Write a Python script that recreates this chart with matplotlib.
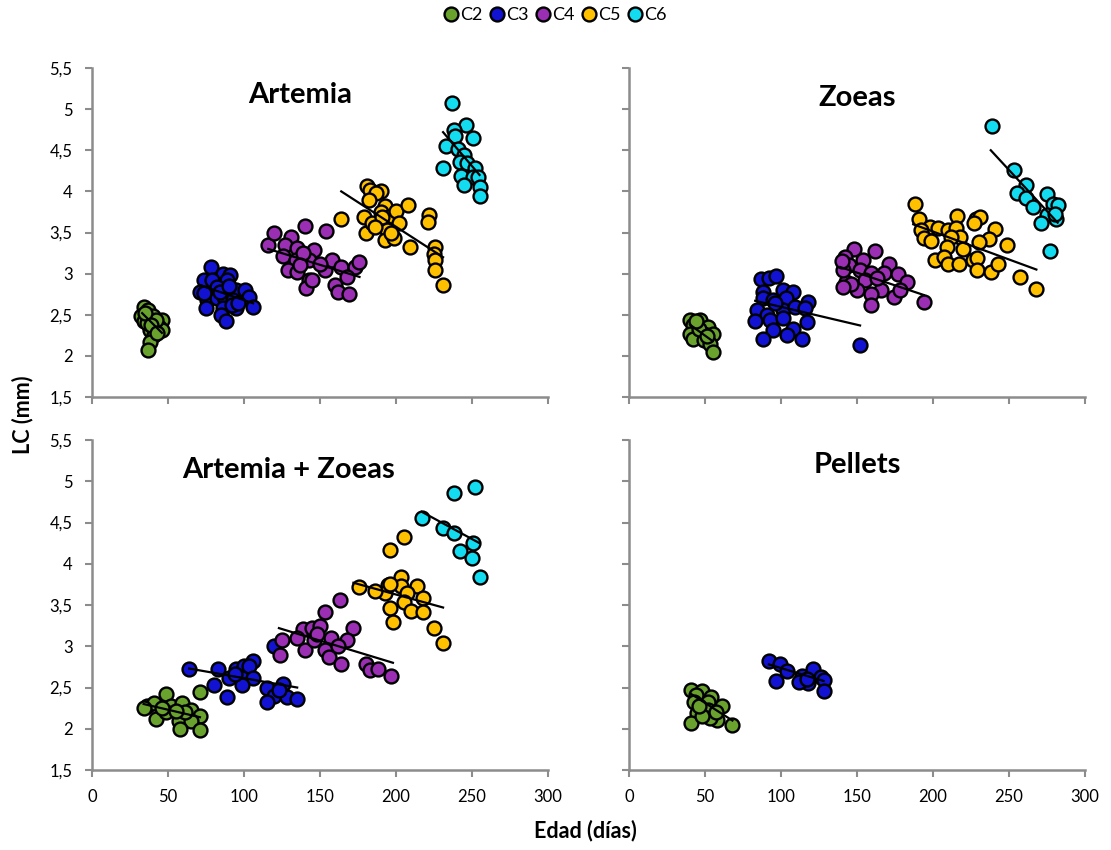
import matplotlib
matplotlib.use('Agg')
import matplotlib.pyplot as plt
from matplotlib.lines import Line2D
from matplotlib.ticker import FuncFormatter

plt.rcParams['font.family'] = ['Lato', 'DejaVu Sans']

stages = ['C2', 'C3', 'C4', 'C5', 'C6']
colors = ['#6AA22E', '#1212D2', '#9A2FB4', '#FFC000', '#14DCF0']

# (edad en días, LC en mm) por estadio y dieta
artemia_c2 = [(34, 2.60), (37, 2.56), (32, 2.48), (40, 2.48), (46, 2.44), (34, 2.42), (44, 2.35),
              (38, 2.32), (46, 2.32), (41, 2.25), (38, 2.17), (37, 2.07), (36, 2.40), (42, 2.44),
              (35, 2.52), (39, 2.38), (43, 2.28)]
artemia_c3 = [(78, 3.08), (86, 3.00), (91, 2.98), (74, 2.92), (79, 2.92), (89, 2.92), (71, 2.78),
              (82, 2.84), (95, 2.80), (101, 2.80), (76, 2.68), (82, 2.70), (87, 2.72), (93, 2.68),
              (103, 2.72), (106, 2.60), (75, 2.58), (86, 2.58), (95, 2.58), (85, 2.50), (88, 2.42),
              (92, 2.62), (74, 2.76), (96, 2.64), (84, 2.78), (90, 2.85)]
artemia_c4 = [(116, 3.35), (120, 3.50), (131, 3.45), (140, 3.58), (127, 3.35), (135, 3.31), (146, 3.29),
              (126, 3.21), (134, 3.17), (143, 3.17), (129, 3.04), (135, 3.02), (143, 2.92), (141, 2.82),
              (154, 3.52), (139, 3.25), (153, 3.04), (158, 3.17), (164, 3.08), (173, 3.08), (176, 3.14),
              (168, 2.96), (160, 2.86), (162, 2.78), (169, 2.75), (145, 2.92), (150, 3.12), (137, 3.10)]
artemia_c5 = [(181, 4.07), (183, 4.02), (190, 4.01), (164, 3.67), (180, 3.49), (179, 3.69), (184, 3.62),
              (193, 3.82), (190, 3.75), (195, 3.69), (200, 3.76), (208, 3.84), (202, 3.61), (194, 3.53),
              (193, 3.41), (199, 3.43), (197, 3.49), (209, 3.32), (222, 3.71), (221, 3.63), (226, 3.33),
              (225, 3.24), (226, 3.16), (226, 3.04), (231, 2.86), (187, 3.98), (182, 3.90), (191, 3.69),
              (186, 3.57)]
artemia_c6 = [(237, 5.07), (246, 4.81), (238, 4.75), (251, 4.65), (239, 4.67), (233, 4.55), (241, 4.52),
              (245, 4.44), (242, 4.36), (247, 4.34), (231, 4.29), (252, 4.29), (243, 4.19), (251, 4.17),
              (254, 4.18), (245, 4.08), (255, 4.05), (255, 3.95)]

zoeas_c2 = [(40, 2.44), (47, 2.44), (42, 2.38), (52, 2.35), (55, 2.27), (40, 2.27), (49, 2.27),
            (42, 2.20), (49, 2.19), (53, 2.15), (55, 2.05), (46, 2.33), (44, 2.42), (51, 2.24)]
zoeas_c3 = [(87, 2.94), (92, 2.95), (97, 2.97), (88, 2.78), (101, 2.80), (108, 2.78), (88, 2.70),
            (95, 2.68), (103, 2.70), (118, 2.66), (84, 2.56), (91, 2.50), (101, 2.56), (109, 2.60),
            (116, 2.58), (83, 2.43), (93, 2.44), (101, 2.46), (117, 2.41), (95, 2.32), (108, 2.33),
            (104, 2.25), (88, 2.21), (114, 2.21), (96, 2.64), (152, 2.13)]
zoeas_c4 = [(148, 3.30), (162, 3.28), (142, 3.20), (154, 3.17), (171, 3.12), (145, 3.10), (152, 3.04),
            (159, 3.01), (168, 3.01), (177, 2.99), (183, 2.90), (143, 2.90), (155, 2.92), (166, 2.80),
            (159, 2.75), (174, 2.72), (178, 2.80), (159, 2.62), (194, 2.65), (150, 2.80), (141, 3.04),
            (140, 3.15), (146, 2.88), (141, 2.84), (163, 2.95)]
zoeas_c5 = [(188, 3.85), (191, 3.66), (198, 3.57), (203, 3.55), (192, 3.53), (194, 3.43), (199, 3.40),
            (216, 3.70), (228, 3.67), (231, 3.69), (210, 3.53), (215, 3.55), (218, 3.45), (212, 3.45),
            (241, 3.54), (237, 3.42), (230, 3.39), (209, 3.33), (220, 3.30), (249, 3.35), (201, 3.17),
            (207, 3.20), (210, 3.12), (217, 3.12), (226, 3.17), (229, 3.19), (229, 3.04), (238, 3.02),
            (243, 3.12), (257, 2.96), (268, 2.81), (227, 3.61)]
zoeas_c6 = [(239, 4.79), (253, 4.26), (261, 4.08), (255, 3.98), (261, 3.92), (275, 3.97), (266, 3.81),
            (279, 3.85), (282, 3.83), (275, 3.71), (281, 3.66), (271, 3.61), (280, 3.73), (277, 3.27)]

mix_c2 = [(36, 2.27), (41, 2.31), (49, 2.42), (52, 2.27), (59, 2.31), (65, 2.23), (71, 2.15),
          (42, 2.12), (49, 2.20), (57, 2.10), (65, 2.10), (58, 2.00), (71, 1.98), (71, 2.45),
          (61, 2.20), (34, 2.25), (46, 2.25), (55, 2.22)]
mix_c3 = [(64, 2.73), (83, 2.72), (95, 2.73), (100, 2.76), (106, 2.82), (103, 2.76), (90, 2.62),
          (99, 2.61), (106, 2.62), (80, 2.53), (99, 2.53), (89, 2.39), (120, 3.00), (115, 2.50),
          (126, 2.54), (120, 2.40), (115, 2.33), (128, 2.38), (135, 2.36), (123, 2.47), (94, 2.66)]
mix_c4 = [(125, 3.08), (124, 2.90), (140, 2.95), (139, 3.21), (145, 3.22), (163, 3.56), (153, 3.42),
          (150, 3.24), (172, 3.22), (157, 3.10), (168, 3.08), (146, 3.08), (153, 2.95), (156, 2.87),
          (164, 2.79), (180, 2.79), (183, 2.71), (188, 2.73), (197, 2.64), (162, 3.00), (135, 3.10),
          (148, 3.15)]
mix_c5 = [(205, 4.32), (196, 4.17), (203, 3.84), (195, 3.74), (203, 3.73), (214, 3.73), (193, 3.64),
          (207, 3.64), (218, 3.59), (205, 3.54), (196, 3.46), (210, 3.43), (218, 3.41), (198, 3.30),
          (225, 3.22), (231, 3.04), (176, 3.72), (186, 3.67), (196, 3.76)]
mix_c6 = [(238, 4.86), (252, 4.93), (217, 4.55), (231, 4.43), (238, 4.37), (251, 4.25), (242, 4.15),
          (250, 4.07), (255, 3.84)]

pellets_c2 = [(41, 2.47), (48, 2.46), (44, 2.41), (54, 2.39), (43, 2.33), (52, 2.32), (61, 2.27),
              (45, 2.19), (52, 2.23), (58, 2.11), (53, 2.13), (41, 2.07), (68, 2.05), (48, 2.15),
              (46, 2.28), (57, 2.20)]
pellets_c3 = [(92, 2.82), (99, 2.78), (104, 2.70), (97, 2.58), (114, 2.64), (121, 2.73), (118, 2.56),
              (112, 2.57), (126, 2.63), (128, 2.59), (128, 2.46), (117, 2.60)]

# rectas de tendencia: (x inicial, x final, y inicial, y final)
artemia_trend = [(33, 46, 2.52, 2.28), (71, 106, 2.86, 2.64), (116, 176, 3.30, 2.96),
                 (164, 231, 4.00, 3.20), (231, 255, 4.72, 4.20)]
zoeas_trend = [(40, 55, 2.38, 2.18), (83, 152, 2.67, 2.37), (139, 194, 3.08, 2.74),
               (187, 268, 3.60, 3.05), (238, 282, 4.50, 3.62)]
mix_trend = [(34, 71, 2.30, 2.14), (64, 135, 2.73, 2.50), (123, 198, 3.22, 2.80),
             (172, 231, 3.77, 3.47), (217, 255, 4.63, 4.25)]
pellets_trend = [(41, 68, 2.42, 2.10), (92, 128, 2.78, 2.58)]

axis_grey = '#8C8C8C'


def comma(v, pos):
    return ('%g' % v).replace('.', ',')


def panel(rect, groups, trends, title, tpos, xlabels, ylabels):
    ax = fig.add_axes(rect)
    for i, pts in enumerate(groups):
        xs = [p[0] for p in pts]
        ys = [p[1] for p in pts]
        ax.scatter(xs, ys, s=100, c=colors[i], edgecolors='black', linewidths=1.7,
                   zorder=2, clip_on=False)
    for x0, x1, y0, y1 in trends:
        ax.plot([x0, x1], [y0, y1], color='black', lw=1.6, zorder=3)
    ax.set_xlim(0, 300)
    ax.set_ylim(1.5, 5.5)
    ax.set_xticks(range(0, 301, 50))
    ax.set_yticks([1.5, 2, 2.5, 3, 3.5, 4, 4.5, 5, 5.5])
    ax.yaxis.set_major_formatter(FuncFormatter(comma))
    for s in ['top', 'right']:
        ax.spines[s].set_visible(False)
    for s in ['left', 'bottom']:
        ax.spines[s].set_color(axis_grey)
        ax.spines[s].set_linewidth(1.8)
    ax.tick_params(direction='out', length=5, width=1.5, color=axis_grey,
                   labelsize=12, pad=9, labelbottom=xlabels, labelleft=ylabels)
    ax.text(tpos[0], tpos[1], title, ha='center', va='center',
            fontsize=21, fontweight='bold')
    return ax


fig = plt.figure(figsize=(11.11, 8.5), dpi=100)

panel([0.0828, 0.5329, 0.4104, 0.3871],
      [artemia_c2, artemia_c3, artemia_c4, artemia_c5, artemia_c6],
      artemia_trend, 'Artemia', (137, 5.17), False, True)
panel([0.5662, 0.5329, 0.4104, 0.3871],
      [zoeas_c2, zoeas_c3, zoeas_c4, zoeas_c5, zoeas_c6],
      zoeas_trend, 'Zoeas', (150, 5.13), False, False)
panel([0.0828, 0.0941, 0.4104, 0.3882],
      [mix_c2, mix_c3, mix_c4, mix_c5, mix_c6],
      mix_trend, 'Artemia + Zoeas', (129, 5.14), True, True)
panel([0.5662, 0.0941, 0.4104, 0.3882],
      [pellets_c2, pellets_c3],
      pellets_trend, 'Pellets', (150, 5.2), True, False)

handles = [Line2D([], [], marker='o', ls='', markersize=10, markerfacecolor=c,
                  markeredgecolor='black', markeredgewidth=1.7) for c in colors]
fig.legend(handles, stages, loc='center', bbox_to_anchor=(0.5, 0.982), ncol=5,
           frameon=False, fontsize=13, handletextpad=0.1, columnspacing=0.4,
           handlelength=0.8, borderaxespad=0)

fig.text(0.02, 0.512, 'LC (mm)', rotation=90, fontsize=15.5, fontweight='bold',
         ha='center', va='center')
fig.text(0.527, 0.0235, 'Edad (días)', fontsize=15.5, fontweight='bold',
         ha='center', va='center')

fig.savefig('out.png', dpi=100)
